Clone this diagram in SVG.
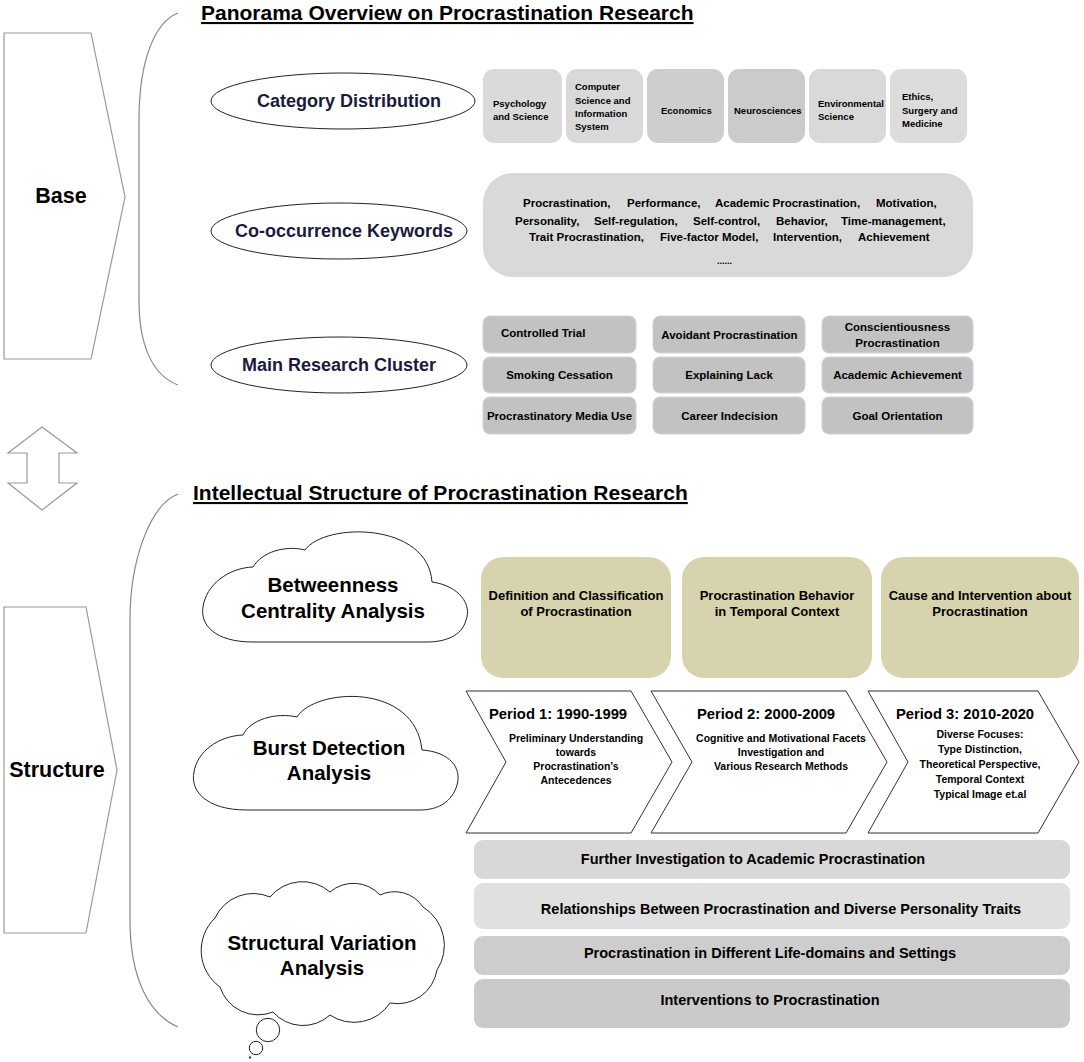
<svg xmlns="http://www.w3.org/2000/svg" width="1084" height="1062" viewBox="0 0 1084 1062">
<style>
text{font-family:"Liberation Sans",Arial,Helvetica,sans-serif;font-weight:bold;fill:#000}
.title{font-size:21px;text-decoration:underline}
.side{font-size:21.5px;text-anchor:middle}
.ell{fill:#fff;stroke:#222;stroke-width:1}
.ellt{font-size:18px;text-anchor:middle;fill:#1a1a3c}
.cat{font-size:9.5px}
.kw{font-size:11.5px}
.cl{fill:#c2c2c2;stroke:#d2d2d2;stroke-width:1}
.clt{font-size:11.5px;text-anchor:middle}
.cloud{fill:#fff;stroke:#222;stroke-width:1}
.cloudt{font-size:20.5px;text-anchor:middle}
.beige{fill:#d6d3ae}
.bt{font-size:13px;text-anchor:middle}
.chev{fill:#fff;stroke:#333;stroke-width:1}
.pt{font-size:14.8px;text-anchor:middle}
.ps{font-size:10.5px;text-anchor:middle}
.bar{stroke:none}
.bart{font-size:14.5px;text-anchor:middle}
.arrowshape{fill:#fff;stroke:#999;stroke-width:1.2}
.brace{fill:none;stroke:#888;stroke-width:1.2}
</style>
<rect width="1084" height="1062" fill="#fff"/>

<g id="connectors">
<path class="brace" d="M178,13 C155,22 139,60 139,120 L139,300 C139,345 152,375 178,385"/>
<path class="brace" d="M178,494 C150,505 130,560 130,620 L130,920 C130,980 150,1015 178,1027"/>
<polygon class="arrowshape" points="42,427 77,453 59,453 59,483 77,483 42,510 8,483 27,483 27,453 8,453"/>
</g>

<g id="title-base">
<text class="title" x="201" y="20">Panorama Overview on Procrastination Research</text>
</g>
<g id="title-structure">
<text class="title" x="193" y="500">Intellectual Structure of Procrastination Research</text>
</g>

<g id="base">
<polygon class="arrowshape" points="4,33 91,33 125,197 91,359 4,359"/>
<text class="side" x="61" y="203">Base</text>
</g>
<g id="structure">
<polygon class="arrowshape" points="4,607 86,607 117,770 86,933 4,933"/>
<text class="side" x="57" y="777">Structure</text>
</g>

<g id="category-distribution">
<ellipse class="ell" cx="343" cy="101" rx="132" ry="28"/>
<text class="ellt" x="349" y="107">Category Distribution</text>
</g>
<g id="cooccurrence-keywords">
<ellipse class="ell" cx="339" cy="231" rx="128" ry="28"/>
<text class="ellt" x="344" y="237">Co-occurrence Keywords</text>
</g>
<g id="main-research-cluster">
<ellipse class="ell" cx="339" cy="365" rx="128" ry="28"/>
<text class="ellt" x="339" y="371">Main Research Cluster</text>
</g>

<g id="categories">
<rect x="483" y="69" width="79" height="74" rx="11" fill="#dadada"/>
<rect x="566" y="69" width="77" height="74" rx="11" fill="#d9d9d9"/>
<rect x="647" y="69" width="77" height="74" rx="11" fill="#cecece"/>
<rect x="728" y="69" width="77" height="74" rx="11" fill="#cbcbcb"/>
<rect x="809" y="69" width="77" height="74" rx="11" fill="#d9d9d9"/>
<rect x="890" y="69" width="77" height="74" rx="11" fill="#dcdcdc"/>
<text class="cat" x="493" y="106.5">Psychology</text>
<text class="cat" x="493" y="120">and Science</text>
<text class="cat" x="575" y="90">Computer</text>
<text class="cat" x="575" y="104">Science and</text>
<text class="cat" x="575" y="117">Information</text>
<text class="cat" x="575" y="130">System</text>
<text class="cat" x="661" y="113.5">Economics</text>
<text class="cat" x="734" y="113.5">Neurosciences</text>
<text class="cat" x="818" y="106.5">Environmental</text>
<text class="cat" x="818" y="120">Science</text>
<text class="cat" x="902" y="99.5">Ethics,</text>
<text class="cat" x="902" y="113.5">Surgery and</text>
<text class="cat" x="902" y="126.5">Medicine</text>
</g>

<g id="keywords">
<rect x="483" y="173" width="490" height="104" rx="30" fill="#d9d9d9"/>
<text class="kw" x="523" y="207">Procrastination,</text>
<text class="kw" x="627" y="207">Performance,</text>
<text class="kw" x="715" y="207">Academic Procrastination,</text>
<text class="kw" x="876" y="207">Motivation,</text>
<text class="kw" x="515" y="225">Personality,</text>
<text class="kw" x="594" y="225">Self-regulation,</text>
<text class="kw" x="693" y="225">Self-control,</text>
<text class="kw" x="776" y="225">Behavior,</text>
<text class="kw" x="841" y="225">Time-management,</text>
<text class="kw" x="529" y="241">Trait Procrastination,</text>
<text class="kw" x="660" y="241">Five-factor Model,</text>
<text class="kw" x="773" y="241">Intervention,</text>
<text class="kw" x="858" y="241">Achievement</text>
<text class="kw" x="717" y="264" style="font-size:9px">......</text>
</g>

<g id="clusters">
<rect class="cl" x="483" y="316" width="153" height="37" rx="7"/>
<rect class="cl" x="653" y="316" width="152" height="37" rx="7"/>
<rect class="cl" x="822" y="316" width="151" height="37" rx="7"/>
<rect class="cl" x="483" y="357" width="153" height="36" rx="7"/>
<rect class="cl" x="653" y="357" width="152" height="36" rx="7"/>
<rect class="cl" x="822" y="357" width="151" height="36" rx="7"/>
<rect class="cl" x="483" y="397" width="153" height="37" rx="7"/>
<rect class="cl" x="653" y="397" width="152" height="37" rx="7"/>
<rect class="cl" x="822" y="397" width="151" height="37" rx="7"/>
<text class="clt" x="501" y="337" style="text-anchor:start">Controlled Trial</text>
<text class="clt" x="729.5" y="339">Avoidant Procrastination</text>
<text class="clt" x="897.5" y="331">Conscientiousness</text>
<text class="clt" x="897.5" y="347">Procrastination</text>
<text class="clt" x="559.5" y="379">Smoking Cessation</text>
<text class="clt" x="729" y="379">Explaining Lack</text>
<text class="clt" x="897.5" y="379">Academic Achievement</text>
<text class="clt" x="559.5" y="420">Procrastinatory Media Use</text>
<text class="clt" x="729.5" y="420">Career Indecision</text>
<text class="clt" x="897.5" y="420">Goal Orientation</text>
</g>

<g id="betweenness">
<path class="cloud" d="M253,642 C215,642 200,625 203,607 C206,585 228,568 253,567 C262,552 285,545 305,550 C325,522 428,522 432,582 C460,586 472,605 466,620 C462,636 445,642 427,642 Z"/>
<text class="cloudt" x="333" y="592">Betweenness</text>
<text class="cloudt" x="333" y="618">Centrality Analysis</text>
</g>
<g id="betweenness-topics">
<rect class="beige" x="481" y="557" width="190" height="121" rx="22"/>
<rect class="beige" x="682" y="557" width="190" height="121" rx="22"/>
<rect class="beige" x="881" y="557" width="198" height="121" rx="22"/>
<text class="bt" x="576" y="600">Definition and Classification</text>
<text class="bt" x="576" y="616">of Procrastination</text>
<text class="bt" x="777" y="600">Procrastination Behavior</text>
<text class="bt" x="777" y="616">in Temporal Context</text>
<text class="bt" x="980" y="600">Cause and Intervention about</text>
<text class="bt" x="980" y="616">Procrastination</text>
</g>

<g id="burst">
<path class="cloud" d="M247,810 C205,810 190,790 194,772 C197,752 218,736 243,735 C250,720 275,712 297,717 C315,688 415,682 422,750 C450,752 462,768 457,785 C452,802 438,810 420,810 Z"/>
<text class="cloudt" x="329" y="755">Burst Detection</text>
<text class="cloudt" x="329" y="780">Analysis</text>
</g>
<g id="period1">
<polygon class="chev" points="466,691 631,691 672,762 631,833 466,833 506,762"/>
<text class="pt" x="558" y="719">Period 1: 1990-1999</text>
<text class="ps" x="576" y="742">Preliminary Understanding</text>
<text class="ps" x="576" y="756">towards</text>
<text class="ps" x="576" y="770">Procrastination’s</text>
<text class="ps" x="576" y="784">Antecedences</text>
</g>
<g id="period2">
<polygon class="chev" points="651,691 846,691 887,762 846,833 651,833 692,762"/>
<text class="pt" x="766" y="719">Period 2: 2000-2009</text>
<text class="ps" x="781" y="742">Cognitive and Motivational Facets</text>
<text class="ps" x="781" y="756">Investigation and</text>
<text class="ps" x="781" y="770">Various Research Methods</text>
</g>
<g id="period3">
<polygon class="chev" points="868,691 1038,691 1079,762 1038,833 868,833 908,762"/>
<text class="pt" x="965" y="719">Period 3: 2010-2020</text>
<text class="ps" x="980" y="738">Diverse Focuses:</text>
<text class="ps" x="980" y="753">Type Distinction,</text>
<text class="ps" x="980" y="768">Theoretical Perspective,</text>
<text class="ps" x="980" y="783">Temporal Context</text>
<text class="ps" x="980" y="798">Typical Image et.al</text>
</g>

<g id="structural-variation">
<path class="cloud" d="M215,918 A42,42 0 0 1 270,897 A42,42 0 0 1 330,892 A36,36 0 0 1 380,895 A34,34 0 0 1 423,907 A45,45 0 0 1 437,970 A40,40 0 0 1 390,1003 A43,43 0 0 1 330,1015 A40,40 0 0 1 273,1012 A40,40 0 0 1 220,987 A45,45 0 0 1 215,918 Z"/>
<circle class="cloud" cx="268" cy="1030" r="11.7"/>
<circle class="cloud" cx="256" cy="1048" r="6.7"/>
<circle cx="250" cy="1057.5" r="1.2" fill="#444"/>
<text class="cloudt" x="322" y="950">Structural Variation</text>
<text class="cloudt" x="322" y="975">Analysis</text>
</g>
<g id="variation-topics">
<rect class="bar" x="474" y="840" width="596" height="39" rx="9" fill="#d8d8d8"/>
<rect class="bar" x="474" y="883" width="596" height="46" rx="9" fill="#e0e0e0"/>
<rect class="bar" x="474" y="936" width="596" height="39" rx="9" fill="#cdcdcd"/>
<rect class="bar" x="474" y="979" width="596" height="49" rx="9" fill="#cacaca"/>
<text class="bart" x="753" y="864">Further Investigation to Academic Procrastination</text>
<text class="bart" x="781" y="914">Relationships Between Procrastination and Diverse Personality Traits</text>
<text class="bart" x="770" y="958">Procrastination in Different Life-domains and Settings</text>
<text class="bart" x="770" y="1005">Interventions to Procrastination</text>
</g>
</svg>
